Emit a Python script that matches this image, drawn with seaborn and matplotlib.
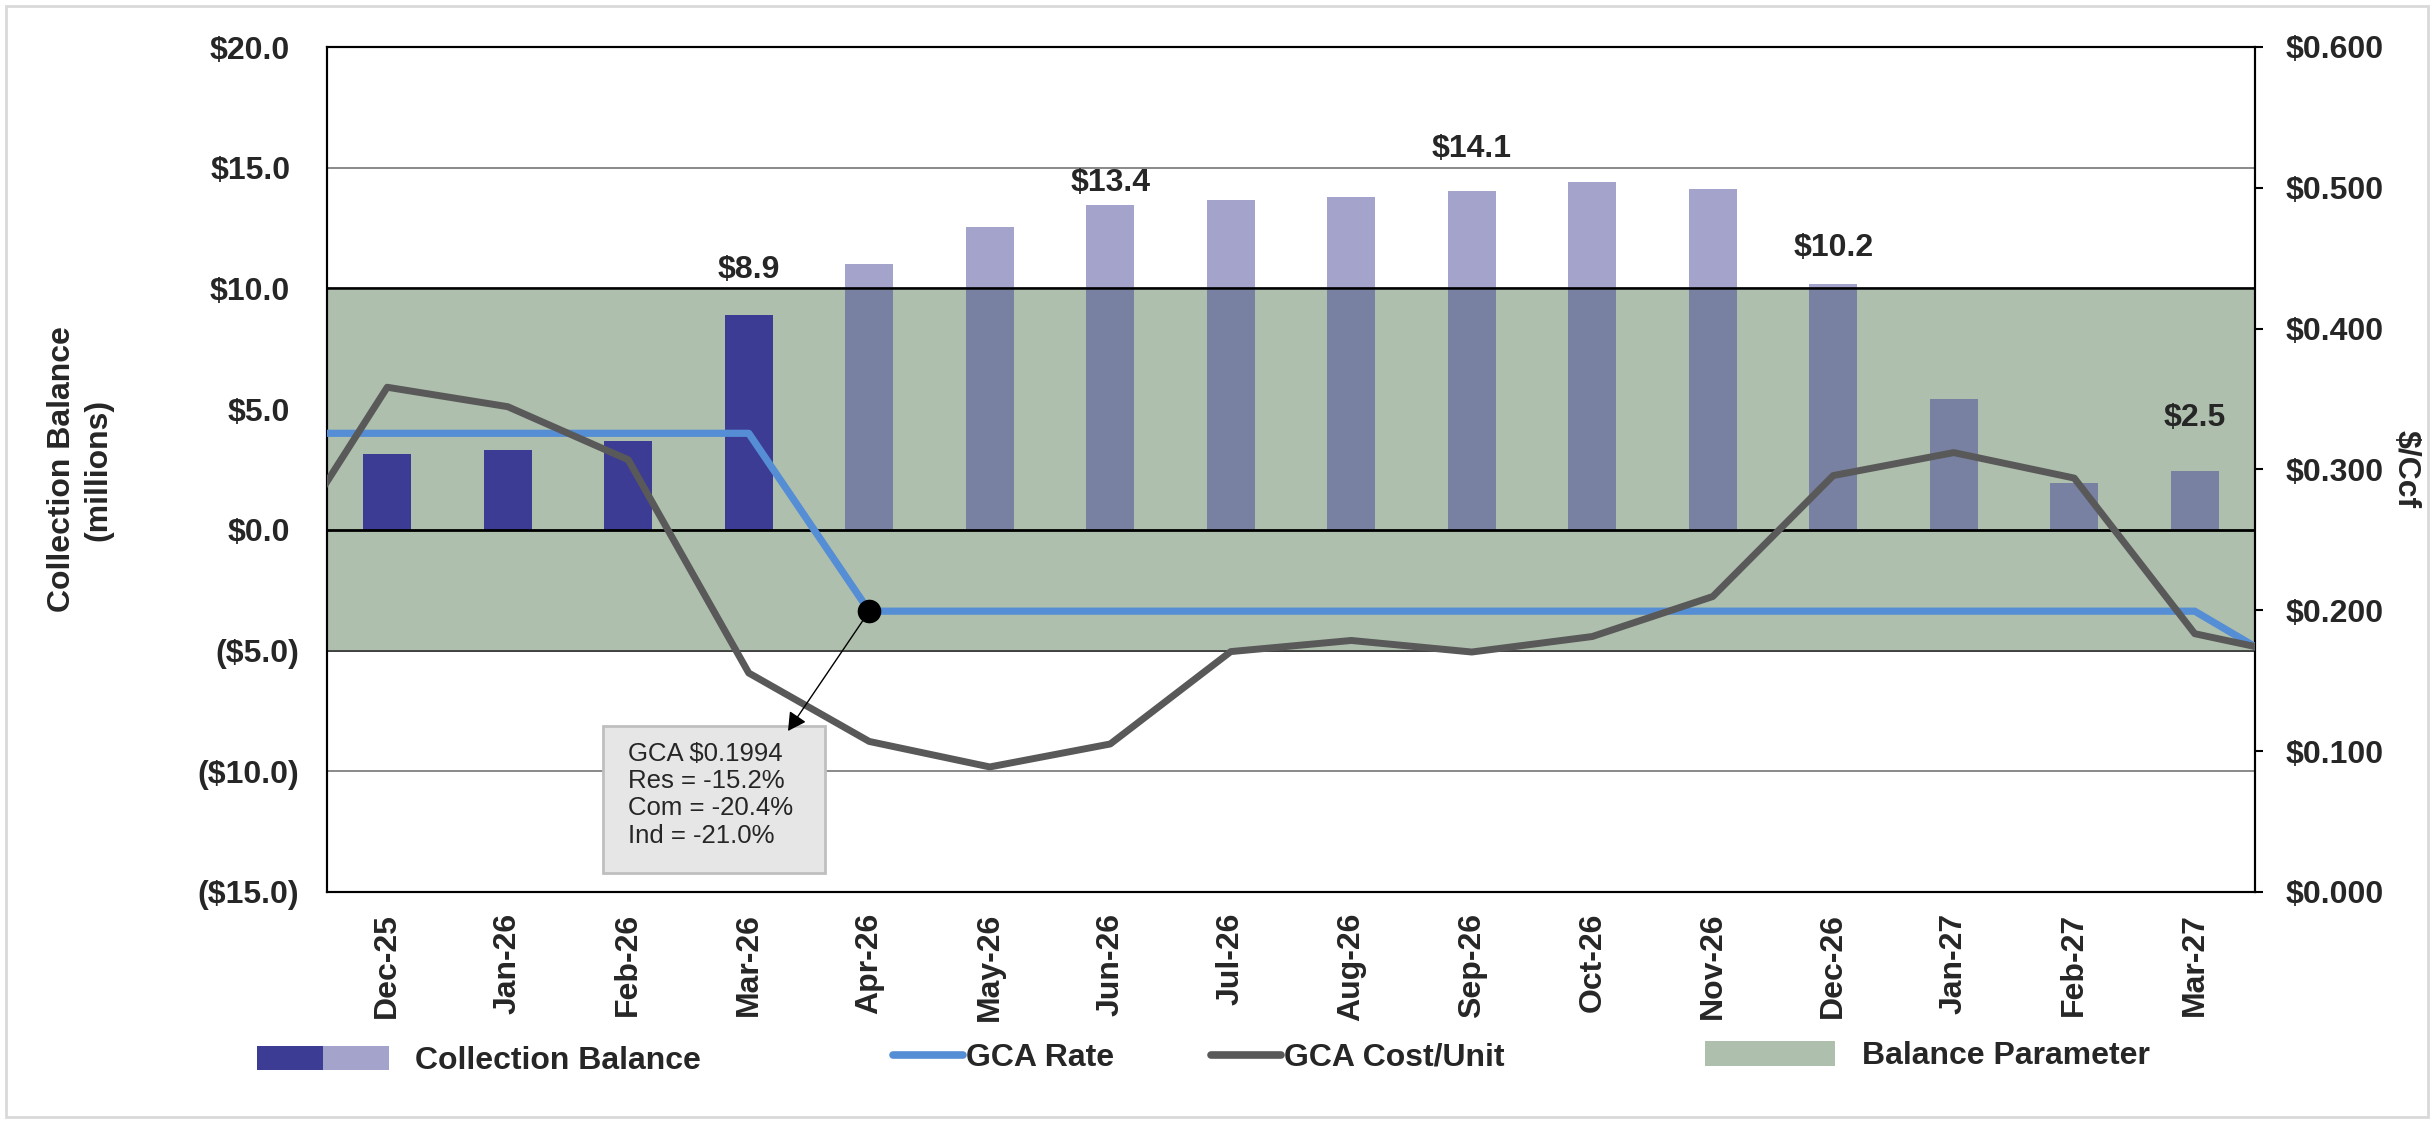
import numpy as np
import pandas as pd
import matplotlib
matplotlib.use("Agg")
import matplotlib.pyplot as plt
import matplotlib.transforms as mtransforms
from matplotlib.patches import Patch, Rectangle
from matplotlib.lines import Line2D
from matplotlib.legend_handler import HandlerTuple
from matplotlib.font_manager import FontProperties
import seaborn as sns

# ---------------- data ----------------
months = ["Dec-25", "Jan-26", "Feb-26", "Mar-26", "Apr-26", "May-26", "Jun-26", "Jul-26",
          "Aug-26", "Sep-26", "Oct-26", "Nov-26", "Dec-26", "Jan-27", "Feb-27", "Mar-27"]
collection_balance = [3.15, 3.3, 3.7, 8.9, 11.0, 12.55, 13.45, 13.65,
                      13.8, 14.05, 14.4, 14.1, 10.2, 5.4, 1.95, 2.45]
n_actual = 4  # Dec-25 .. Mar-26 are actuals, the rest projected

line_months = ["Nov-25"] + months + ["Apr-27"]
gca_rate = [0.3257, 0.3257, 0.3257, 0.3257, 0.3257, 0.1994, 0.1994, 0.1994, 0.1994,
            0.1994, 0.1994, 0.1994, 0.1994, 0.1994, 0.1994, 0.1994, 0.1994, 0.1490]
gca_cost = [0.2244, 0.3584, 0.3446, 0.3069, 0.1555, 0.1069, 0.0888, 0.1051, 0.1707,
            0.1786, 0.1704, 0.1814, 0.2098, 0.2957, 0.3120, 0.2939, 0.1834, 0.1652]

band_low, band_high = -5.0, 10.0

label_months = ["Mar-26", "Jun-26", "Sep-26", "Dec-26", "Mar-27"]
label_values = [8.9, 13.4, 14.1, 10.2, 2.5]
label_y = [10.78, 14.36, 15.77, 11.67, 4.64]  # placement of the value labels

left_ticks = [-15, -10, -5, 0, 5, 10, 15, 20]
right_ticks = [0.0, 0.1, 0.2, 0.3, 0.4, 0.5, 0.6]

callout_month = "Apr-26"
callout_text = "GCA $0.1994\nRes = -15.2%\nCom = -20.4%\nInd = -21.0%"

# ---------------- style ----------------
sns.set_style("white")
plt.rcParams["font.family"] = ["Liberation Sans", "DejaVu Sans"]

DARK = "#3C3C94"
PROJ_ALPHA = 0.47
GREEN = "#AEBFAD"
BLUE = "#558ED5"
GREY = "#595959"
FS = 23

W, H = 2433, 1123
fig = plt.figure(figsize=(W / 100, H / 100), dpi=100)
L, R, T, B = 327, 2255, 47, 892
ax = fig.add_axes([L / W, 1 - B / H, (R - L) / W, (B - T) / H])

df = pd.DataFrame({"month": months, "balance": collection_balance})
sns.barplot(data=df, x="month", y="balance", color=DARK, saturation=1, width=0.4,
            ax=ax, zorder=2)
for i, p in enumerate(ax.patches):
    if i >= n_actual:
        p.set_alpha(PROJ_ALPHA)
    p.set_linewidth(0)

ax.set_xlim(-0.5, len(months) - 0.5)
ax.set_ylim(-15, 20)
ax.set_yticks(left_ticks)
ax.set_yticklabels([f"${v:.1f}" if v >= 0 else f"(${abs(v):.1f})" for v in left_ticks])
ax.yaxis.grid(True, color="#808080", lw=1.3, zorder=0)
ax.set_axisbelow(True)

ax.axhspan(band_low, band_high, color=GREEN, zorder=1, lw=0)
ax.axhline(band_high, color="black", lw=1.8, zorder=3)
ax.axhline(band_low, color="#333333", lw=1.2, zorder=3)
ax.axhline(0, color="black", lw=2.0, zorder=3)

for sp in ax.spines.values():
    sp.set_visible(True)
    sp.set_color("black")
    sp.set_linewidth(1.5)

ax.tick_params(axis="y", length=0, pad=20, labelsize=FS)
ax.tick_params(axis="x", length=0, pad=15, labelsize=FS, labelrotation=90)
for lab in ax.get_yticklabels() + ax.get_xticklabels():
    lab.set_fontweight("bold")
off = mtransforms.ScaledTranslation(-9 / 100, 0, fig.dpi_scale_trans)
for lab, v in zip(ax.get_yticklabels(), left_ticks):
    if v >= 0:
        lab.set_transform(lab.get_transform() + off)
ax.set_xlabel("")
ax.set_ylabel("Collection Balance\n(millions)", fontsize=FS, fontweight="bold",
              linespacing=1.25)
ax.yaxis.set_label_coords((113 - L) / (R - L), 0.5)

for m, v, y in zip(label_months, label_values, label_y):
    ax.text(months.index(m), y, f"${v:.1f}", ha="center", va="center",
            fontsize=FS, fontweight="bold", zorder=6)

# ---------------- secondary axis ----------------
ax2 = ax.twinx()
line_x = np.arange(len(line_months)) - 1
sns.lineplot(x=line_x, y=gca_rate, ax=ax2, color=BLUE, lw=5.2, sort=False,
             legend=False, zorder=4)
sns.lineplot(x=line_x, y=gca_cost, ax=ax2, color=GREY, lw=5.0, sort=False,
             legend=False, zorder=5)
ax2.set_xlim(-0.5, len(months) - 0.5)
ax2.set_ylim(0, 0.6)
ax2.set_yticks(right_ticks)
ax2.set_yticklabels([f"${v:.3f}" for v in right_ticks])
ax2.tick_params(axis="y", direction="out", length=6, width=1.5, pad=16,
                labelsize=FS, color="black")
for lab in ax2.get_yticklabels():
    lab.set_fontweight("bold")
for sp in ax2.spines.values():
    sp.set_color("black")
    sp.set_linewidth(1.5)
ax2.set_ylabel("$/Ccf", fontsize=FS, fontweight="bold", rotation=270,
               va="center", ha="center")
ax2.yaxis.set_label_coords((2406 - L) / (R - L), 0.5)
ax2.grid(False)

# callout
ci = line_months.index(callout_month)
cx, cy = line_x[ci], gca_rate[ci]
ax2.plot([cx], [cy], "o", color="black", ms=16, zorder=7)
box = Rectangle(((603 - L) / (R - L), (B - 873) / (B - T)),
                (825 - 603) / (R - L), (873 - 726) / (B - T),
                transform=ax2.transAxes, facecolor="#E6E6E6", edgecolor="#BFBFBF",
                lw=2, zorder=8)
ax2.add_patch(box)
ax2.text((628 - L) / (R - L), (B - 742) / (B - T), callout_text,
         transform=ax2.transAxes, ha="left", va="top", fontsize=18.5,
         linespacing=1.17, zorder=9)
ax2.annotate("", xy=((788 - L) / (R - L), (B - 731) / (B - T)), xycoords="axes fraction",
             xytext=(cx, cy), textcoords="data",
             arrowprops=dict(arrowstyle="-|>,head_length=0.55,head_width=0.3",
                             mutation_scale=20, color="black", lw=1.0,
                             shrinkA=7, shrinkB=0),
             zorder=9)

# ---------------- legends ----------------
fp = FontProperties(family=["Liberation Sans", "DejaVu Sans"], weight="bold", size=FS)
em = FS * 100 / 72.0


def add_leg(handle, label, x_px, y_px, hl_px, hh_px, gap_px, hmap=None):
    fig.legend(handles=[handle], labels=[label], loc="center left",
               bbox_to_anchor=(x_px / W, 1 - y_px / H), bbox_transform=fig.transFigure,
               frameon=False, borderpad=0, borderaxespad=0,
               handlelength=hl_px / em, handleheight=hh_px / em,
               handletextpad=gap_px / em, prop=fp, handler_map=hmap)


cb_handle = (Patch(facecolor=DARK, lw=0), Patch(facecolor=DARK, alpha=PROJ_ALPHA, lw=0))
add_leg(cb_handle, "Collection Balance", 257, 1061, 132, 25, 26,
        {tuple: HandlerTuple(ndivide=None, pad=0)})
add_leg(Line2D([], [], color=BLUE, lw=5.5, solid_capstyle="round"), "GCA Rate",
        893, 1058, 70, 20, 3)
add_leg(Line2D([], [], color=GREY, lw=5.5, solid_capstyle="round"), "GCA Cost/Unit",
        1211, 1058, 70, 20, 3)
add_leg(Patch(facecolor=GREEN, lw=0), "Balance Parameter", 1705, 1056, 130, 27, 27)

# outer border
fig.patches.append(Rectangle((6 / W, 6 / H), (2428 - 6) / W, (1117 - 6) / H,
                             transform=fig.transFigure, fill=False,
                             edgecolor="#D9D9D9", lw=2))

fig.savefig("out.png", dpi=100)
